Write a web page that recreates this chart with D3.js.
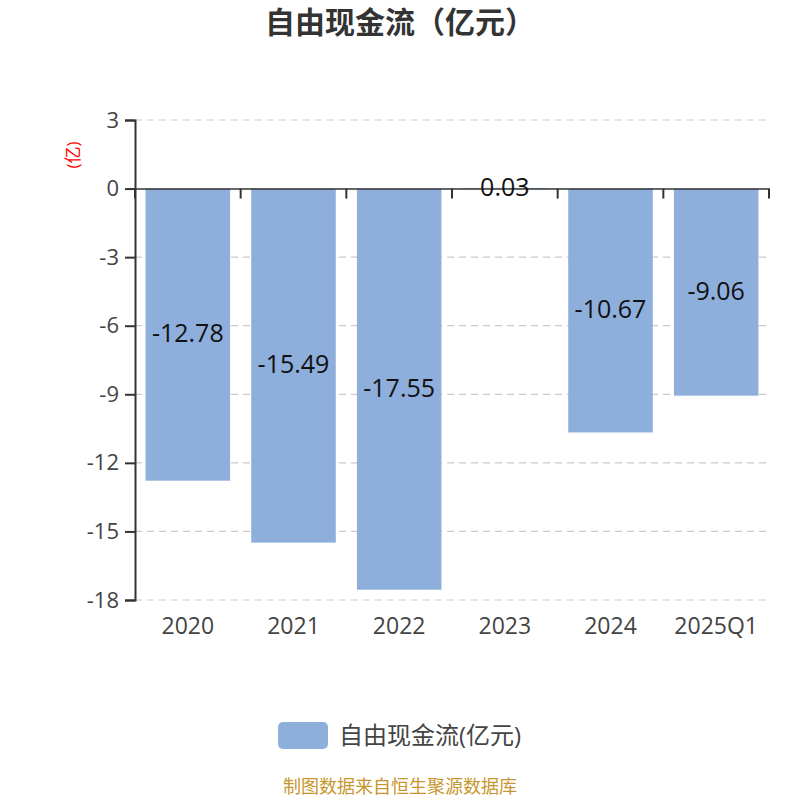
<!DOCTYPE html>
<html>
<head>
<meta charset="utf-8">
<script src="https://cdn.jsdelivr.net/npm/d3@7"></script>
<style>
  body { margin: 0; background: #fff; }
  text { font-family: "Open Sans", "Noto Sans CJK SC", sans-serif; }
</style>
</head>
<body>
<div id="chart"></div>
<script>
var categories = ["2020", "2021", "2022", "2023", "2024", "2025Q1"];
var values = [-12.78, -15.49, -17.55, 0.03, -10.67, -9.06];
var yTicks = [3, 0, -3, -6, -9, -12, -15, -18];

var margin = {top: 120, right: 31, bottom: 200, left: 135},
    width = 800 - margin.left - margin.right,
    height = 800 - margin.top - margin.bottom;

var svg = d3.select("#chart")
    .append("svg")
    .attr("width", 800)
    .attr("height", 800);

var g = svg.append("g")
    .attr("transform", "translate(" + margin.left + "," + margin.top + ")");

var x = d3.scaleBand()
    .domain(categories)
    .range([0, width])
    .paddingInner(0.2)
    .paddingOuter(0.1);

var y = d3.scaleLinear()
    .domain([-18, 3])
    .range([height, 0]);

// grid lines
g.selectAll(".grid")
    .data(yTicks)
    .enter()
    .append("line")
    .attr("x1", 0)
    .attr("x2", width)
    .attr("y1", function(d) { return y(d); })
    .attr("y2", function(d) { return y(d); })
    .attr("stroke", "#cccccc")
    .attr("stroke-width", 1.2)
    .attr("stroke-dasharray", "7,5")
    .style("display", function(d) { return d === 0 ? "none" : null; });

// bars
g.selectAll(".bar")
    .data(values)
    .enter()
    .append("rect")
    .attr("x", function(d, i) { return x(categories[i]); })
    .attr("y", function(d) { return y(Math.max(0, d)); })
    .attr("width", x.bandwidth())
    .attr("height", function(d) { return Math.abs(y(d) - y(0)); })
    .attr("fill", "#8eaedb");

// y axis
var yAxis = g.append("g")
    .call(d3.axisLeft(y).tickValues(yTicks).tickSize(10).tickPadding(6).tickFormat(function(d) { return String(d); }));
yAxis.select(".domain").attr("stroke", "#333").attr("stroke-width", 2);
yAxis.selectAll(".tick line").attr("stroke", "#333").attr("stroke-width", 2);
yAxis.selectAll("text").attr("fill", "#444").style("font-size", "22px");

// x axis on zero line
var xAxis = g.append("g")
    .attr("transform", "translate(0," + y(0) + ")")
    .call(d3.axisBottom(x).tickSize(0).tickFormat(""));
xAxis.select(".domain").attr("stroke", "#333").attr("stroke-width", 1.5);
xAxis.selectAll(".tick").remove();

// tick marks at band boundaries
var bounds = categories.map(function(c) { return x(c) - x.step() * x.paddingInner() / 2; });
bounds.push(width);
xAxis.selectAll(".bnd")
    .data(bounds)
    .enter()
    .append("line")
    .attr("x1", function(d) { return d; })
    .attr("x2", function(d) { return d; })
    .attr("y1", 0)
    .attr("y2", 10)
    .attr("stroke", "#333")
    .attr("stroke-width", 2);

// category labels below plot
g.selectAll(".cat")
    .data(categories)
    .enter()
    .append("text")
    .attr("x", function(d) { return x(d) + x.bandwidth() / 2; })
    .attr("y", height + 34)
    .attr("text-anchor", "middle")
    .attr("fill", "#444")
    .style("font-size", "23px")
    .text(function(d) { return d; });

// value labels
g.selectAll(".val")
    .data(values)
    .enter()
    .append("text")
    .attr("x", function(d, i) { return x(categories[i]) + x.bandwidth() / 2; })
    .attr("y", function(d) { return (y(d) + y(0)) / 2; })
    .attr("dy", "0.3em")
    .attr("text-anchor", "middle")
    .attr("fill", "#111")
    .style("font-size", "25px")
    .text(function(d) { return d.toFixed(2); });

// unit label
svg.append("text")
    .attr("transform", "translate(79,155) rotate(-90)")
    .attr("text-anchor", "middle")
    .attr("fill", "red")
    .style("font-size", "17px")
    .text("(亿)");

// title
svg.append("text")
    .attr("x", 400)
    .attr("y", 33)
    .attr("text-anchor", "middle")
    .attr("fill", "#333")
    .style("font-size", "30px")
    .style("font-weight", "bold")
    .text("自由现金流（亿元）");

// legend
svg.append("rect")
    .attr("x", 278)
    .attr("y", 722)
    .attr("width", 50)
    .attr("height", 27)
    .attr("rx", 5)
    .attr("fill", "#8eaedb");
svg.append("text")
    .attr("x", 339)
    .attr("y", 744)
    .attr("fill", "#444")
    .style("font-size", "24px")
    .text("自由现金流(亿元)");

// source
svg.append("text")
    .attr("x", 400)
    .attr("y", 793)
    .attr("text-anchor", "middle")
    .attr("fill", "#c8962e")
    .style("font-size", "18px")
    .text("制图数据来自恒生聚源数据库");
</script>
</body>
</html>
